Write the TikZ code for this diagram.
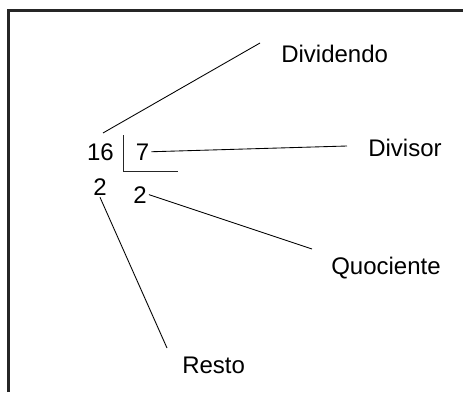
\documentclass[tikz,border=0pt]{standalone}
\usepackage{fontspec}
\setmainfont{Liberation Sans}
\tikzset{
num/.style={font=\fontsize{18}{20}\selectfont,inner sep=1.5pt,anchor=base},
term/.style={font=\fontsize{18}{20}\selectfont,inner sep=0pt,anchor=base west},
lead/.style={black,line width=0.65pt},
bracket/.style={black!85,line width=0.75pt},
frameline/.style={black!85,line width=1.9pt}
}

\begin{document}
\begin{tikzpicture}[x=0.75pt,y=-0.75pt]
\useasboundingbox (0,0) rectangle (463,392);
\draw[frameline] (8.5,392) |- (463,10.5);
% the division
\node[num] (n16) at (100.5,160) {16};
\node[num] (n7) at (142.5,160) {7};
\node[num] (rest2) at (100,195) {2};
\node[num] (quot2) at (140,203) {2};
\draw[bracket] (123,135) -- (123,171) -- (178,171);
% names of the parts
\node[term] (dividendo) at (281,63) {Dividendo};
\node[term] (divisor) at (368,156) {Divisor};
\node[term] (quociente) at (331,274) {Quociente};
\node[term] (resto) at (182,373) {Resto};
\coordinate (dvdTip) at (260,43);
\coordinate (dvsTip) at (347,146);
\coordinate (quoTip) at (312,249);
\coordinate (resTip) at (167,348);
\draw[lead] ([shift={(2.5,-8)}]n16.north) -- (dvdTip);
\draw[lead] (n7.east) -- (dvsTip);
\draw[lead] (quot2.east) -- (quoTip);
\draw[lead] (rest2.south) -- (resTip);
\end{tikzpicture}
\end{document}
